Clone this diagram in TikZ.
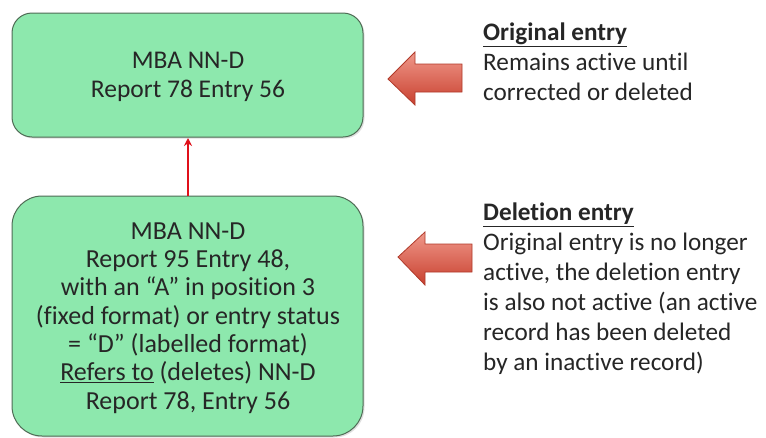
\documentclass[tikz,border=0pt]{standalone}
\usepackage{fontspec}
\setmainfont[Ligatures=NoCommon]{Carlito}
\usetikzlibrary{arrows.meta,shadows}
\definecolor{boxfill}{HTML}{8DE8AD}
\definecolor{boxline}{HTML}{4F6B55}
\definecolor{txt}{HTML}{262626}
\definecolor{arrtop}{HTML}{F0988A}
\definecolor{arrbot}{HTML}{C8402F}
\definecolor{arrline}{HTML}{B03A2A}
\definecolor{conn}{HTML}{E0101A}
\tikzset{
  entrybox/.style={draw=boxline, line width=1pt, fill=boxfill,
    drop shadow={shadow xshift=1.5pt, shadow yshift=-1.5pt, opacity=0.25}},
  boxtext/.style={text=txt, align=center, font=\fontsize{26}{28.3}\selectfont},
  sidetext/.style={text=txt, align=left, anchor=north west, font=\fontsize{25.2}{30}\selectfont, inner sep=0pt},
  blockarrow/.style={draw=arrline, line width=0.8pt, top color=arrtop, bottom color=arrbot}
}
\begin{document}
\begin{tikzpicture}[x=1pt,y=-1pt]
\useasboundingbox (0,0) rectangle (766,437);
\fill[white] (0,0) rectangle (766,437);
% boxes
\draw[entrybox, rounded corners=20pt] (12,13) rectangle (363,137);
\node[boxtext, font=\fontsize{25.5}{29}\selectfont] (orig) at (188,77) {MBA NN-D\\Report 78 Entry 56};
\coordinate (origS) at (188,138);
\draw[entrybox, rounded corners=30pt] (12,196) rectangle (363,436);
\node[boxtext] (del) at (188,318) {MBA NN-D\\Report 95 Entry 48,\\with an “A” in position 3\\(fixed format) or entry status\\= “D” (labelled format)\\\underline{Refers to} (deletes) NN-D\\Report 78, Entry 56};
\coordinate (delN) at (188,196);
\draw[conn, line width=2.2pt, -{Stealth[length=8pt,width=8pt]}] (delN) -- (origS);
% block arrows
\draw[blockarrow] (388,79) -- (415,52) -- (415,64) -- (462,64) -- (462,92) -- (415,92) -- (415,105) -- cycle;
\draw[blockarrow] (398,257) -- (425,232) -- (425,244) -- (472,244) -- (472,272) -- (425,272) -- (425,285) -- cycle;
% side texts
\node[sidetext] (t1) at (483,23) {\textbf{\underline{Original entry}}\\Remains active until\\corrected or deleted};
\node[sidetext] (t2) at (483,203) {\textbf{\underline{Deletion entry}}\\Original entry is no longer\\active, the deletion entry\\is also not active (an active\\record has been deleted\\by an inactive record)};
\end{tikzpicture}
\end{document}
